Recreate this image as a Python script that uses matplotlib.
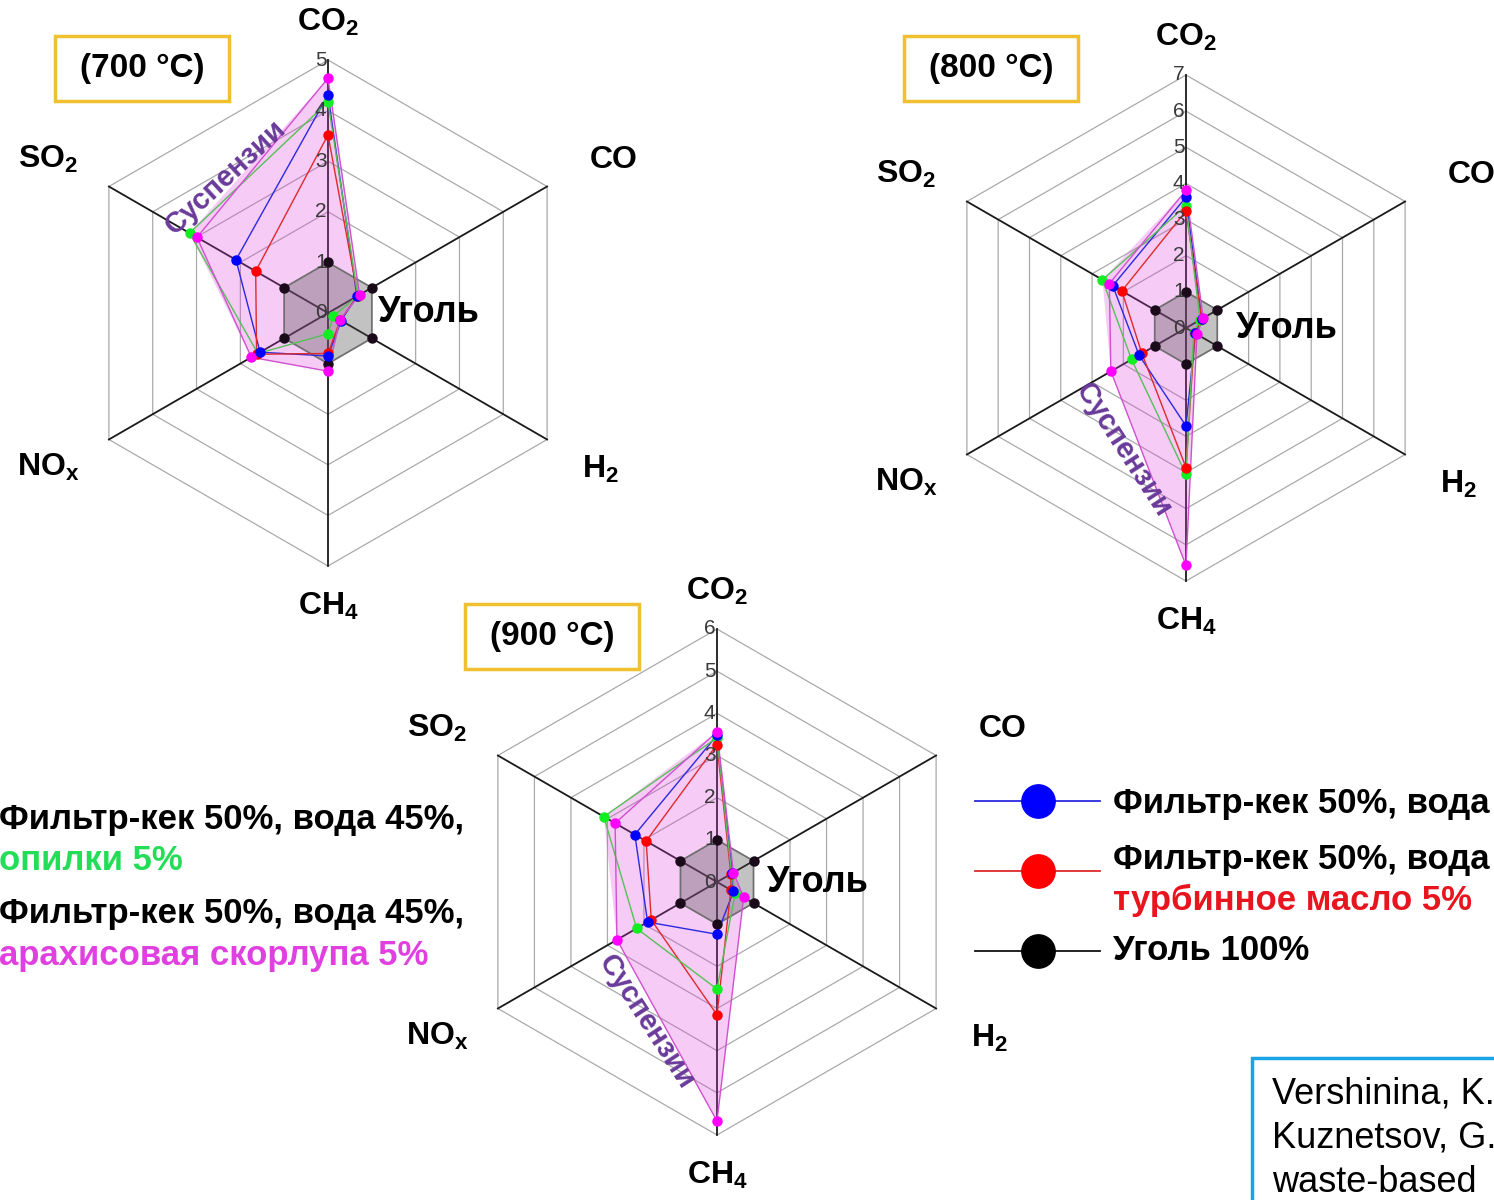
import numpy as np
import matplotlib.pyplot as plt
from matplotlib.patches import Rectangle

plt.rcParams['font.family'] = ['Liberation Sans', 'DejaVu Sans']
plt.rcParams['mathtext.fontset'] = 'custom'
plt.rcParams['mathtext.rm'] = 'Liberation Sans'
plt.rcParams['mathtext.bf'] = 'Liberation Sans:bold'
plt.rcParams['mathtext.it'] = 'Liberation Sans:italic'

# axes of the radar, clockwise from the top
gases = ['CO$_\\mathbf{2}$', 'CO', 'H$_\\mathbf{2}$', 'CH$_\\mathbf{4}$', 'NO$_\\mathbf{x}$', 'SO$_\\mathbf{2}$']
angles_deg = [90, 30, -30, -90, -150, 150]

# relative emissions (coal = 1), order: CO2, CO, H2, CH4, NOx, SO2
coal = [1, 1, 1, 1, 1, 1]

blue_700 = [4.31, 0.66, 0.30, 0.85, 1.55, 2.10]
red_700 = [3.52, 0.68, 0.28, 0.80, 1.63, 1.65]
green_700 = [4.17, 0.68, 0.12, 0.41, 1.60, 3.16]
magenta_700 = [4.64, 0.72, 0.27, 1.15, 1.75, 2.99]

blue_800 = [3.62, 0.50, 0.30, 2.71, 1.50, 2.34]
red_800 = [3.24, 0.50, 0.28, 3.86, 1.41, 2.05]
green_800 = [3.38, 0.45, 0.25, 4.05, 1.74, 2.67]
magenta_800 = [3.81, 0.55, 0.35, 6.57, 2.40, 2.45]

blue_900 = [3.48, 0.42, 0.45, 1.24, 1.90, 2.25]
red_900 = [3.26, 0.38, 0.38, 3.15, 1.80, 1.94]
green_900 = [3.42, 0.40, 0.50, 2.54, 2.20, 3.10]
magenta_900 = [3.56, 0.45, 0.73, 5.67, 2.74, 2.79]

line_colors = ['#2a2ae0', '#e02a2a', '#55c055', '#d050d0']
marker_colors = ['#0000ff', '#ff0000', '#11ee22', '#ff00ff']

W, H = 1494, 1200
fig = plt.figure(figsize=(W / 100, H / 100), dpi=100)
fig.patch.set_facecolor('white')

over = fig.add_axes([0, 0, 1, 1], zorder=0)
over.set_xlim(0, W)
over.set_ylim(H, 0)
over.axis('off')

lab_off = [(0, 1.15), (1.13, 0.605), (1.075, -0.62), (0, -1.16), (-1.107, -0.61), (-1.107, 0.605)]


def radar(cx, cy, nmax, series, title, box_xy, sus_px, sus_rot):
    R = 253
    s = R / nmax
    half = 350
    ax = fig.add_axes([(cx - half) / W, (H - cy - half) / H, 2 * half / W, 2 * half / H], zorder=1)
    lim = half / s
    ax.set_xlim(-lim, lim)
    ax.set_ylim(-lim, lim)
    ax.axis('off')

    th = np.deg2rad(angles_deg)
    c, sn = np.cos(th), np.sin(th)
    cc = np.append(c, c[0])
    ss = np.append(sn, sn[0])

    for k in range(1, nmax + 1):
        ax.plot(k * cc, k * ss, color='#aaaaaa', lw=0.9, zorder=1)
    for i in range(6):
        ax.plot([0, nmax * c[i]], [0, nmax * sn[i]], color='#1a1a1a', lw=1.3, zorder=2)
    for k in range(nmax + 1):
        ax.annotate(str(k), (0, k), xytext=(-1, 0), textcoords='offset points',
                    ha='right', va='center', fontsize=15, color='#3a3a3a', zorder=9)

    # envelope of all suspensions
    env = np.max(np.array(series), axis=0)
    ev = np.append(env, env[0])
    ax.fill(ev * cc, ev * ss, color='#e040e0', alpha=0.27, lw=0, zorder=3)

    cv = np.append(coal, coal[0])
    ax.fill(cv * cc, cv * ss, color='#505050', alpha=0.35, lw=0, zorder=4)
    ax.plot(cv * cc, cv * ss, color='#707070', lw=1.2, zorder=5)

    for vals, lc in zip(series, line_colors):
        v = np.append(vals, vals[0])
        ax.plot(v * cc, v * ss, color=lc, lw=1.0, zorder=6)
    ax.plot(np.array(coal) * c, np.array(coal) * sn, 'o', ms=6.5, color='#1a0a1a', zorder=7)
    for idx in [2, 1, 0, 3]:
        v = np.array(series[idx])
        ax.plot(v * c, v * sn, 'o', ms=6.5, color=marker_colors[idx], zorder=7)

    for i in range(6):
        ax.text(lab_off[i][0] * nmax, lab_off[i][1] * nmax, gases[i], ha='center', va='center',
                fontsize=23, fontweight='bold', zorder=9)

    ax.text(50 / s, 0, 'Уголь', ha='left', va='center', fontsize=26, fontweight='bold', zorder=9)
    ax.text(sus_px[0] / s, sus_px[1] / s, 'Суспензии', ha='center', va='center', rotation=sus_rot,
            rotation_mode='anchor', fontsize=21, fontweight='bold', color='#6a3a9a', zorder=9)

    over.add_patch(Rectangle(box_xy, 174, 65, fill=False, edgecolor='#f0c030', lw=2.5))
    over.text(box_xy[0] + 87, box_xy[1] + 33, title, ha='center', va='center',
              fontsize=24, fontweight='bold')


radar(328, 313, 5, [blue_700, red_700, green_700, magenta_700], '(700 °C)', (55, 36), (-102, 136), 43)
radar(1186, 328, 7, [blue_800, red_800, green_800, magenta_800], '(800 °C)', (904, 36), (-63, -122), -57)
radar(717, 882, 6, [blue_900, red_900, green_900, magenta_900], '(900 °C)', (465, 604), (-71, -140), -57)

# legend on the right
leg_items = [('#0000ff', '#2a2ae0', 801), ('#ff0000', '#e02a2a', 871), ('#000000', '#111111', 951)]
for mc, lc, y in leg_items:
    over.plot([975, 1100], [y, y], color=lc, lw=1.3)
    over.plot([1038], [y], 'o', ms=24, color=mc)
over.text(1113, 803, 'Фильтр-кек 50%, вода', ha='left', va='center', fontsize=25, fontweight='bold')
over.text(1113, 859, 'Фильтр-кек 50%, вода', ha='left', va='center', fontsize=25, fontweight='bold')
over.text(1113, 900, 'турбинное масло 5%', ha='left', va='center', fontsize=25, fontweight='bold', color='#e8141e')
over.text(1113, 951, 'Уголь 100%', ha='left', va='center', fontsize=25, fontweight='bold')

# legend on the left
over.text(-1, 820, 'Фильтр-кек 50%, вода 45%,', ha='left', va='center', fontsize=25, fontweight='bold')
over.text(-1, 861, 'опилки 5%', ha='left', va='center', fontsize=25, fontweight='bold', color='#22dd55')
over.text(-1, 914, 'Фильтр-кек 50%, вода 45%,', ha='left', va='center', fontsize=25, fontweight='bold')
over.text(-1, 955, 'арахисовая скорлупа 5%', ha='left', va='center', fontsize=25, fontweight='bold', color='#e040e0')

# reference box
over.add_patch(Rectangle((1252, 1058), 400, 300, facecolor='white', edgecolor='#1ba3e8', lw=2.5))
over.text(1272, 1094, 'Vershinina, K.', ha='left', va='center', fontsize=26)
over.text(1272, 1138, 'Kuznetsov, G.', ha='left', va='center', fontsize=26)
over.text(1272, 1182, 'waste-based', ha='left', va='center', fontsize=26)

fig.savefig('out.png', dpi=100)
